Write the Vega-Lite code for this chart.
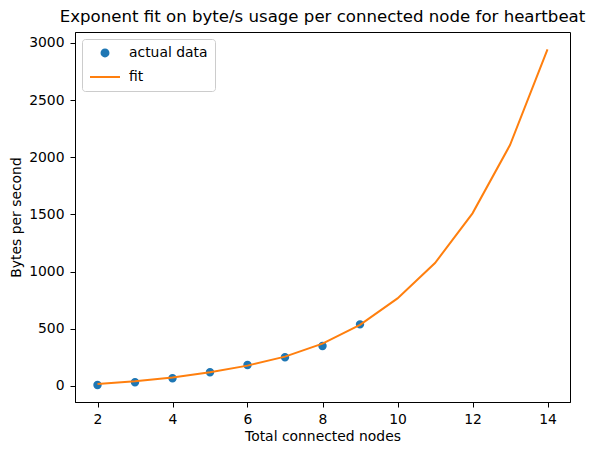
{
  "$schema": "https://vega.github.io/schema/vega-lite/v6.json",
  "autosize": "none",
  "width": 495,
  "height": 370,
  "padding": {"left": 75, "top": 32, "right": 25, "bottom": 53},
  "background": "white",
  "title": {"text": "Exponent fit on byte/s usage per connected node for heartbeat", "font": "DejaVu Sans", "fontSize": 16.6, "fontWeight": "normal", "color": "black", "offset": 6, "anchor": "middle"},
  "config": {
    "font": "DejaVu Sans",
    "view": {"stroke": "black", "strokeWidth": 1},
    "axis": {"grid": false, "domainColor": "black", "tickColor": "black", "labelColor": "black", "titleColor": "black", "labelFontSize": 13.9, "titleFontSize": 13.9, "titleFontWeight": "normal", "tickSize": 5, "labelPadding": 5, "labelFont": "DejaVu Sans", "titleFont": "DejaVu Sans"},
    "legend": {"title": null, "orient": "top-left", "offset": 7, "labelFontSize": 13.9, "labelColor": "black", "labelFont": "DejaVu Sans", "strokeColor": "#cccccc", "fillColor": "white", "cornerRadius": 3, "padding": 7, "rowPadding": -9, "labelOffset": 8, "symbolStrokeWidth": 2, "symbolOpacity": 1}
  },
  "datasets": {
    "pts": [
      {"nodes": 2, "bps": 9, "series": "actual data"},
      {"nodes": 3, "bps": 32, "series": "actual data"},
      {"nodes": 4, "bps": 67, "series": "actual data"},
      {"nodes": 5, "bps": 120, "series": "actual data"},
      {"nodes": 6, "bps": 183, "series": "actual data"},
      {"nodes": 7, "bps": 251, "series": "actual data"},
      {"nodes": 8, "bps": 350, "series": "actual data"},
      {"nodes": 9, "bps": 539, "series": "actual data"}
    ],
    "fit": [
      {"nodes": 2, "bps": 17, "series": "fit"},
      {"nodes": 3, "bps": 42, "series": "fit"},
      {"nodes": 4, "bps": 75, "series": "fit"},
      {"nodes": 5, "bps": 120, "series": "fit"},
      {"nodes": 6, "bps": 178, "series": "fit"},
      {"nodes": 7, "bps": 257, "series": "fit"},
      {"nodes": 8, "bps": 370, "series": "fit"},
      {"nodes": 9, "bps": 535, "series": "fit"},
      {"nodes": 10, "bps": 766, "series": "fit"},
      {"nodes": 11, "bps": 1075, "series": "fit"},
      {"nodes": 12, "bps": 1510, "series": "fit"},
      {"nodes": 13, "bps": 2107, "series": "fit"},
      {"nodes": 14, "bps": 2945, "series": "fit"}
    ]
  },
  "encoding": {
    "x": {"field": "nodes", "type": "quantitative", "title": "Total connected nodes", "scale": {"domain": [1.4, 14.6], "nice": false, "zero": false}, "axis": {"values": [2, 4, 6, 8, 10, 12, 14], "titlePadding": 4}},
    "y": {"field": "bps", "type": "quantitative", "title": "Bytes per second", "scale": {"domain": [-140, 3096], "nice": false, "zero": false}, "axis": {"values": [0, 500, 1000, 1500, 2000, 2500, 3000], "format": "d", "titlePadding": 5, "labelPadding": 6}}
  },
  "layer": [
    {
      "data": {"name": "pts"},
      "mark": {"type": "point", "filled": true, "strokeWidth": 1.5, "opacity": 1},
      "encoding": {
        "fill": {"field": "series", "type": "nominal", "scale": {"domain": ["actual data", "fit"], "range": ["#1f77b4", "#ff7f0e"]}},
        "stroke": {"field": "series", "type": "nominal", "scale": {"domain": ["actual data", "fit"], "range": ["#1f77b4", "#ff7f0e"]}},
        "shape": {"field": "series", "type": "nominal", "scale": {"domain": ["actual data", "fit"], "range": ["circle", "stroke"]}},
        "size": {"field": "series", "type": "nominal", "scale": {"type": "point", "domain": ["actual data", "fit"], "range": [48, 900]}}
      }
    },
    {
      "data": {"name": "fit"},
      "mark": {"type": "line", "strokeWidth": 2},
      "encoding": {
        "stroke": {"field": "series", "type": "nominal"}
      }
    }
  ]
}
